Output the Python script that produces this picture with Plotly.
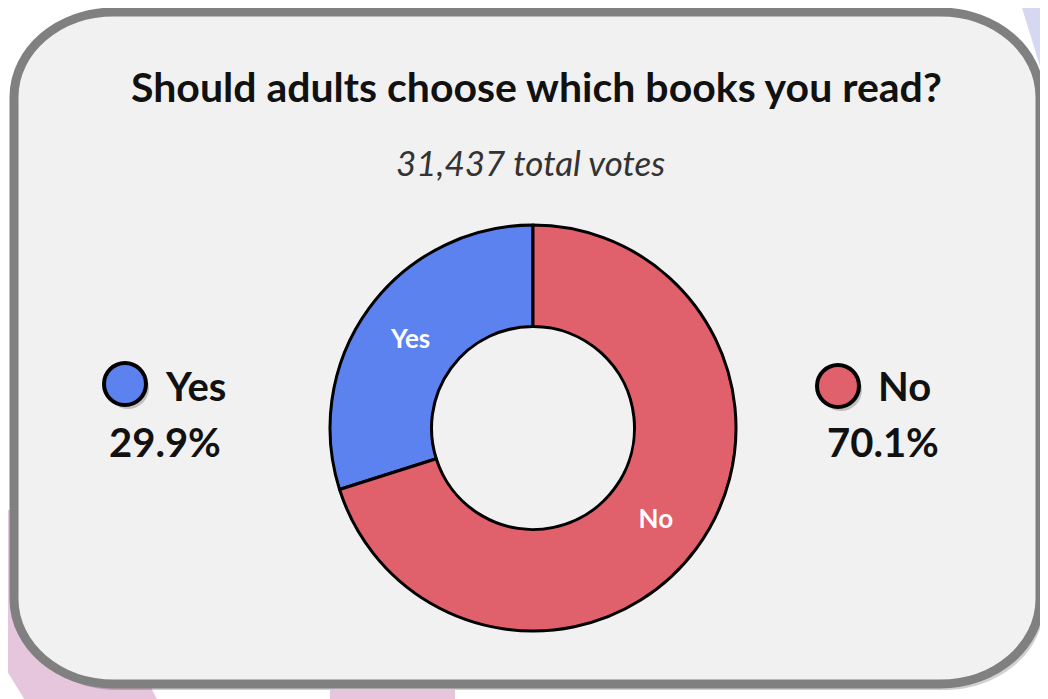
import plotly.graph_objects as go

# ---- data ----
labels = ["Yes", "No"]
values = [29.9, 70.1]
colors = ["#5b82ef", "#e0606b"]
title_text = "Should adults choose which books you read?"
total_votes = 31437

W, H = 1048, 699
OX, OY = 8, 8  # page body margin compensation
FONT = "Lato, 'DejaVu Sans', sans-serif"


def px(x):
    return (x - OX) / W


def py(y):
    return 1 - (y - OY) / H


def rounded_rect(x0, y0, x1, y1, rx, ry):
    k = 0.5523
    p = lambda x, y: f"{px(x):.5f},{py(y):.5f}"
    s = f"M {p(x0 + rx, y0)} L {p(x1 - rx, y0)} "
    s += f"C {p(x1 - rx + k * rx, y0)} {p(x1, y0 + ry - k * ry)} {p(x1, y0 + ry)} "
    s += f"L {p(x1, y1 - ry)} "
    s += f"C {p(x1, y1 - ry + k * ry)} {p(x1 - rx + k * rx, y1)} {p(x1 - rx, y1)} "
    s += f"L {p(x0 + rx, y1)} "
    s += f"C {p(x0 + rx - k * rx, y1)} {p(x0, y1 - ry + k * ry)} {p(x0, y1 - ry)} "
    s += f"L {p(x0, y0 + ry)} "
    s += f"C {p(x0, y0 + ry - k * ry)} {p(x0 + rx - k * rx, y0)} {p(x0 + rx, y0)} Z"
    return s


def poly(points):
    return "M " + " L ".join(f"{px(x):.5f},{py(y):.5f}" for x, y in points) + " Z"


shapes = []
# decorative background shapes
shapes.append(dict(type="path", xref="paper", yref="paper", layer="below",
                   path=poly([(0, 510), (60, 510), (160, 705), (28, 705), (0, 660)]),
                   fillcolor="#e6c6dc", line=dict(width=0)))
shapes.append(dict(type="path", xref="paper", yref="paper", layer="below",
                   path=poly([(330, 705), (330, 690), (455, 690), (455, 705)]),
                   fillcolor="#e6c6dc", line=dict(width=0)))
shapes.append(dict(type="path", xref="paper", yref="paper", layer="below",
                   path=poly([(1022, 8), (1056, 8), (1056, 120), (1035, 50)]),
                   fillcolor="#d6d8f2", line=dict(width=0)))
# box shadow
shapes.append(dict(type="path", xref="paper", yref="paper", layer="below",
                   path=rounded_rect(17, 16, 1044, 690, 100, 85),
                   fillcolor="rgba(0,0,0,0.18)", line=dict(width=0)))
# main rounded box
shapes.append(dict(type="path", xref="paper", yref="paper", layer="below",
                   path=rounded_rect(14, 12, 1040, 684, 100, 85),
                   fillcolor="#f1f1f1", line=dict(color="#808080", width=9)))

# legend circles
legend_pos = [(125, 384), (838, 386)]
r = 21
for (cx, cy), col in zip(legend_pos, colors):
    shapes.append(dict(type="circle", xref="paper", yref="paper", layer="below",
                       x0=px(cx - r + 3), x1=px(cx + r + 3), y0=py(cy + r + 4), y1=py(cy - r + 4),
                       fillcolor="rgba(0,0,0,0.2)", line=dict(width=0)))
    shapes.append(dict(type="circle", xref="paper", yref="paper", layer="below",
                       x0=px(cx - r), x1=px(cx + r), y0=py(cy + r), y1=py(cy - r),
                       fillcolor=col, line=dict(color="#000000", width=4)))

# donut geometry (pixels)
CX, CY, R = 533, 428, 203
start_rot = -values[0] / sum(values) * 360  # "Yes" ends at 12 o'clock on the left side

fig = go.Figure(go.Pie(
    labels=labels, values=values, sort=False, direction="clockwise", rotation=start_rot,
    hole=0.5,
    marker=dict(colors=colors, line=dict(color="#000000", width=3)),
    textinfo="label", textposition="inside", insidetextorientation="horizontal",
    textfont=dict(family=FONT, size=26, color="#ffffff", weight="bold"),
    domain=dict(x=[px(CX - R), px(CX + R)], y=[py(CY + R), py(CY - R)]),
    showlegend=False, hoverinfo="label+percent",
))

annotations = [
    dict(text=title_text, x=px(536), y=py(86), xref="paper", yref="paper",
         showarrow=False, font=dict(family=FONT, size=41, color="#111111", weight="bold"),
         xanchor="center", yanchor="middle"),
    dict(text=f"{total_votes:,} total votes", x=px(530), y=py(162), xref="paper", yref="paper",
         showarrow=False, font=dict(family=FONT, size=35, color="#333333", style="italic"),
         xanchor="center", yanchor="middle"),
]
legend_text_pos = [((163, 386), (165, 442)), ((876, 386), (883, 442))]
for lab, val, ((lx, ly), (vx, vy)) in zip(labels, values, legend_text_pos):
    annotations.append(dict(text=lab, x=px(lx), y=py(ly), xref="paper", yref="paper",
                            showarrow=False, xanchor="left", yanchor="middle",
                            font=dict(family=FONT, size=40, color="#111111", weight="bold")))
    annotations.append(dict(text=f"{val:.1f}%", x=px(vx), y=py(vy), xref="paper", yref="paper",
                            showarrow=False, xanchor="center", yanchor="middle",
                            font=dict(family=FONT, size=40, color="#111111", weight="bold")))

fig.update_layout(
    width=W, height=H, margin=dict(l=0, r=0, t=0, b=0),
    paper_bgcolor="#ffffff", plot_bgcolor="#ffffff",
    shapes=shapes, annotations=annotations,
)

fig.write_html("out.html")
